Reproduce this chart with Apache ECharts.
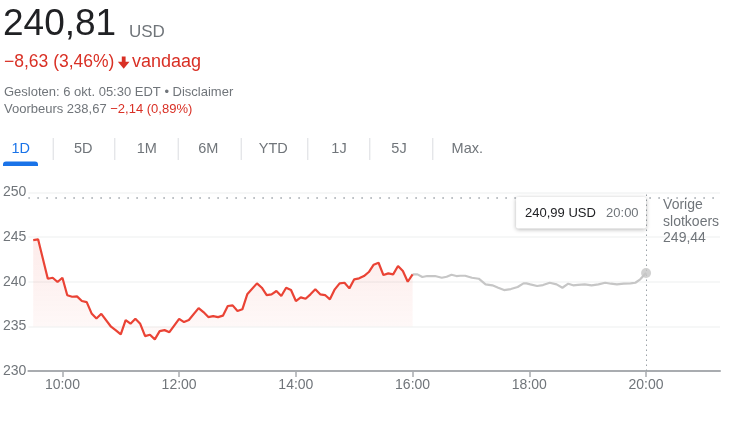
<!DOCTYPE html>
<html><head><meta charset="utf-8">
<script src="https://cdn.jsdelivr.net/npm/echarts@6/dist/echarts.min.js"></script>
<style>html,body{margin:0;padding:0;background:#fff;overflow:hidden}#c{width:743px;height:421px}</style>
</head><body><div id="c"></div>
<script>
// ---- data (minutes after midnight, prices in USD) ----
const regularTimes = [570,575,585,590,595,600,605,610,615,620,625,630,635,640,650,655,660,665,670,675,680,685,690,695,700,705,710,720,725,730,740,745,750,755,760,765,770,775,780,785,790,800,805,810,815,820,825,830,835,840,845,850,855,860,865,870,875,880,885,890,895,900,905,910,915,920,925,930,935,940,945,950,955,960];
const regularPrices = [244.67,244.75,240.34,240.45,239.97,240.45,238.48,238.32,238.36,237.84,237.72,236.45,235.89,236.41,234.96,234.55,234.10,235.71,235.30,235.85,235.29,233.91,234.06,233.54,234.47,234.58,234.35,235.85,235.48,235.71,237.05,236.60,236.04,236.15,236.04,236.20,237.28,237.35,236.72,236.91,238.59,239.82,239.33,238.51,238.59,238.96,238.40,239.33,239.07,237.84,238.25,238.09,238.59,239.15,238.59,238.51,238.03,239.15,239.82,239.89,239.26,240.27,240.38,240.64,241.09,241.91,242.13,240.75,240.94,240.83,241.76,241.20,240.00,240.83];
const afterTimes = [960,965,970,975,983,990,995,1000,1005,1009,1014,1021,1028,1035,1042,1048,1054,1061,1068,1074,1077,1081,1088,1094,1101,1108,1114,1120,1125,1130,1137,1144,1151,1158,1164,1170,1177,1184,1189,1194,1200];
const afterPrices = [240.83,240.83,240.53,240.64,240.64,240.45,240.56,240.78,240.64,240.67,240.67,240.45,240.34,239.71,239.60,239.33,239.07,239.18,239.41,239.82,239.82,239.71,239.52,239.63,239.89,239.71,239.33,239.78,239.60,239.66,239.71,239.60,239.71,239.89,239.78,239.71,239.78,239.82,239.89,240.27,240.99];
const xTickMinutes = [600,720,840,960,1080,1200];
const yTickValues = [230,235,240,245,250];
const prevClose = 249.44;
const closePrice = 240.81;
const dayChange = -8.63;
const dayChangePct = 3.46;
const preMarketPrice = 238.67;
const preMarketChange = -2.14;
const preMarketPct = 0.89;
const tabs = ['1D','5D','1M','6M','YTD','1J','5J','Max.'];

// ---- helpers ----
const FONT = 'Arial, "Liberation Sans", sans-serif';
const GRAY = '#70757a', DARK = '#202124', RED = '#d93025', BLUE = '#1a73e8';
const nl = (v) => v.toFixed(2).replace('.', ',');
const hhmm = (m) => String(Math.floor(m/60)).padStart(2,'0') + ':' + String(m%60).padStart(2,'0');
const signed = (v) => (v < 0 ? '\u2212' : '+') + nl(Math.abs(v));

const chart = echarts.init(document.getElementById('c'), null, {renderer:'canvas'});
const regularData = regularTimes.map((t,i)=>[t, regularPrices[i]]);
const afterData = afterTimes.map((t,i)=>[t, afterPrices[i]]);
const lastT = afterTimes[afterTimes.length-1], lastP = afterPrices[afterPrices.length-1];

chart.setOption({
  animation:false,
  textStyle:{fontFamily:FONT},
  grid:{left:28, right:23, top:192.5, bottom:50, containLabel:false},
  xAxis:{
    type:'value', min:565, max:1276,
    axisLine:{show:true, lineStyle:{color:'#a9acb0', width:2}},
    axisTick:{show:true, customValues:xTickMinutes, length:6, lineStyle:{color:'#a9acb0', width:1.5}},
    axisLabel:{customValues:xTickMinutes, formatter:(v)=>hhmm(v), color:GRAY, fontSize:14, margin:7, fontFamily:FONT},
    splitLine:{show:false}
  },
  yAxis:{
    type:'value', min:yTickValues[0], max:yTickValues[yTickValues.length-1], interval:5,
    axisLine:{show:false}, axisTick:{show:false},
    axisLabel:{color:GRAY, fontSize:14, margin:2, fontFamily:FONT},
    splitLine:{show:true, lineStyle:{color:'#f3f4f5', width:1.5}}
  },
  series:[
    {
      type:'line', data:regularData, showSymbol:false, z:4,
      lineStyle:{color:'#ea4335', width:2.2},
      areaStyle:{origin:235, color:new echarts.graphic.LinearGradient(0,0,0,1,[
        {offset:0,color:'rgba(234,67,53,0.15)'},{offset:1,color:'rgba(234,67,53,0.04)'}])}
    },
    {
      type:'line', data:afterData, showSymbol:false, z:3,
      lineStyle:{color:'#c6c6c6', width:2.2},
      markLine:{
        silent:true, symbol:['none','none'], label:{show:false},
        lineStyle:{color:'#9aa0a6', width:1.5, type:[1.5,7.5]},
        data:[{yAxis:prevClose}, {xAxis:lastT, lineStyle:{color:'#9aa0a6', width:1, type:[1.5,3.5]}}]
      }
    },
    {
      type:'scatter', data:[[lastT,lastP]], symbolSize:10, z:5,
      itemStyle:{color:'#c6c6c6'}
    }
  ]
});

const p = chart.convertToPixel({xAxisIndex:0, yAxisIndex:0}, [lastT, prevClose]);
const g = [];
// header
g.push({type:'text', x:3, y:24.5, style:{text:nl(closePrice), font:'37px '+FONT, fill:DARK, verticalAlign:'middle'}});
g.push({type:'text', x:129, y:32, style:{text:'USD', font:'17px '+FONT, fill:GRAY, verticalAlign:'middle'}});
g.push({type:'text', x:4, y:62.5, style:{text:signed(dayChange)+' ('+nl(dayChangePct)+'%)', font:'17.5px '+FONT, fill:RED, verticalAlign:'middle'}});
g.push({type:'polygon', shape:{points:[[121.8,56.5],[125.6,56.5],[125.6,61.8],[129.5,61.8],[123.7,68.8],[117.9,61.8],[121.8,61.8]]}, style:{fill:RED}});
g.push({type:'text', x:132, y:62.5, style:{text:'vandaag', font:'18px '+FONT, fill:RED, verticalAlign:'middle'}});
g.push({type:'text', x:4, y:92, style:{text:'Gesloten: 6 okt. 05:30 EDT \u2022 Disclaimer', font:'13px '+FONT, fill:GRAY, verticalAlign:'middle'}});
g.push({type:'text', x:4, y:109.5, style:{text:'{g|Voorbeurs '+nl(preMarketPrice)+' }{r|'+signed(preMarketChange)+' ('+nl(preMarketPct)+'%)}', font:'13px '+FONT, verticalAlign:'middle',
  rich:{g:{fill:GRAY, font:'13px '+FONT}, r:{fill:RED, font:'13px '+FONT}}}});
// tabs
const tabCenters = [20.7,83.3,146.7,208.3,273.3,339,399,467.3];
const seps = [52.7,114.3,177.7,240.7,307.3,369.3,432.3];
tabs.forEach((t,i)=>g.push({type:'text', x:tabCenters[i], y:149, style:{text:t, font:'14.5px '+FONT, fill:i===0?BLUE:GRAY, align:'center', verticalAlign:'middle'}}));
seps.forEach(x=>g.push({type:'rect', shape:{x:x, y:138, width:1, height:22}, style:{fill:'#dadce0'}}));
g.push({type:'rect', shape:{x:3, y:161.5, width:35, height:4.5, r:[3,3,0,0]}, style:{fill:BLUE}});
// hover box
g.push({type:'rect', shape:{x:p[0]-130, y:p[1]-0.5, width:130, height:31.5, r:2}, z:10,
  style:{fill:'#fff', shadowBlur:4, shadowOffsetY:1, shadowColor:'rgba(0,0,0,0.3)'}});
g.push({type:'text', x:p[0]-121, y:p[1]+15.5, z:11, style:{text:nl(lastP)+' USD', font:'13px '+FONT, fill:DARK, verticalAlign:'middle'}});
g.push({type:'text', x:p[0]-40, y:p[1]+15.5, z:11, style:{text:hhmm(lastT), font:'13px '+FONT, fill:GRAY, verticalAlign:'middle'}});
// previous close label
g.push({type:'text', x:p[0]+17, y:p[1]-0.5, z:11, style:{text:'Vorige\nslotkoers\n'+nl(prevClose), font:'14px '+FONT, fill:GRAY, lineHeight:16.5, verticalAlign:'top'}});
chart.setOption({graphic:g});
</script></body></html>
